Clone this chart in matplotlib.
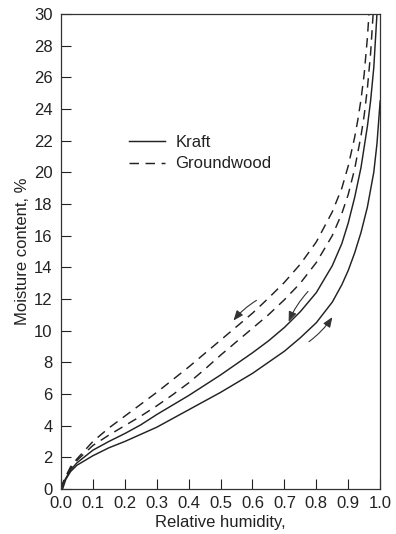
import matplotlib.pyplot as plt

plt.rcParams['font.family'] = ['Liberation Sans', 'DejaVu Sans']

# values (relative humidity, moisture content %)
gw_des_rh = [0, 0.01, 0.03, 0.05, 0.1, 0.15, 0.2, 0.25, 0.3, 0.35, 0.4, 0.45, 0.5, 0.55, 0.6,
             0.65, 0.7, 0.75, 0.8, 0.85, 0.88, 0.9, 0.92, 0.93, 0.94, 0.95, 0.96, 0.965]
gw_des_mc = [0, 0.6, 1.4, 1.9, 3.0, 3.85, 4.6, 5.35, 6.1, 6.9, 7.7, 8.55, 9.4, 10.25, 11.1,
             12.05, 13.05, 14.2, 15.6, 17.5, 19.0, 20.4, 22.2, 23.3, 24.6, 26.2, 28.5, 30]

gw_ads_rh = [0, 0.01, 0.03, 0.05, 0.1, 0.15, 0.2, 0.25, 0.3, 0.35, 0.4, 0.45, 0.5, 0.55, 0.6,
             0.65, 0.7, 0.75, 0.8, 0.85, 0.88, 0.9, 0.92, 0.94, 0.95, 0.96, 0.97, 0.978]
gw_ads_mc = [0, 0.55, 1.3, 1.8, 2.75, 3.4, 4.0, 4.6, 5.25, 5.95, 6.7, 7.55, 8.45, 9.3, 10.15,
             11.0, 11.95, 13.0, 14.3, 16.0, 17.4, 18.6, 20.2, 22.3, 23.6, 25.3, 27.5, 30]

kr_des_rh = [0, 0.01, 0.03, 0.05, 0.1, 0.15, 0.2, 0.25, 0.3, 0.35, 0.4, 0.45, 0.5, 0.55, 0.6,
             0.65, 0.7, 0.75, 0.8, 0.85, 0.88, 0.9, 0.92, 0.94, 0.96, 0.97, 0.98, 0.99]
kr_des_mc = [0, 0.5, 1.2, 1.65, 2.45, 3.0, 3.5, 4.05, 4.7, 5.3, 5.9, 6.55, 7.2, 7.9, 8.6,
             9.35, 10.2, 11.2, 12.4, 14.1, 15.5, 16.8, 18.4, 20.3, 22.9, 24.5, 26.6, 30]

kr_ads_rh = [0.005, 0.015, 0.03, 0.05, 0.1, 0.15, 0.2, 0.25, 0.3, 0.35, 0.4, 0.45, 0.5, 0.55, 0.6,
             0.65, 0.7, 0.75, 0.8, 0.85, 0.88, 0.9, 0.92, 0.94, 0.96, 0.98, 0.99, 1.0]
kr_ads_mc = [0, 0.6, 1.1, 1.5, 2.1, 2.6, 3.0, 3.45, 3.9, 4.45, 5.0, 5.55, 6.1, 6.7, 7.3,
             8.0, 8.7, 9.55, 10.5, 11.8, 12.9, 13.8, 14.9, 16.2, 17.8, 20.0, 21.8, 24.5]

# direction arrows: (start rh, start mc, end rh, end mc)
arrows = [
    (0.62, 12.0, 0.535, 10.5),
    (0.78, 12.6, 0.71, 10.4),
    (0.77, 9.2, 0.855, 11.0),
]

x_ticks = [i / 10 for i in range(11)]
y_ticks = list(range(0, 31, 2))

ink = "#222222"
dash = (0, (6.5, 4.5))

fig = plt.figure(figsize=(3.96, 5.34), dpi=100)
ax = fig.add_axes([0.154, 0.0843, 0.806, 0.8897])

ax.plot(kr_ads_rh, kr_ads_mc, color=ink, lw=1.05, label="Kraft")
ax.plot(kr_des_rh, kr_des_mc, color=ink, lw=1.05)
ax.plot(gw_ads_rh, gw_ads_mc, color=ink, lw=1.05, linestyle=dash, label="Groundwood")
ax.plot(gw_des_rh, gw_des_mc, color=ink, lw=1.05, linestyle=dash)

for x0, y0, x1, y1 in arrows:
    ax.annotate("", xy=(x1, y1), xytext=(x0, y0),
                arrowprops=dict(arrowstyle="-|>,head_length=0.6,head_width=0.24",
                                color="#333333", lw=0.8,
                                connectionstyle="arc3,rad=0.1"))

ax.set_xlim(0, 1.0)
ax.set_ylim(0, 30)
ax.set_xticks(x_ticks)
ax.set_xticklabels([f"{t:.1f}" for t in x_ticks])
ax.set_yticks(y_ticks)
ax.tick_params(direction="in", length=7, width=0.8, colors=ink, labelsize=12)
ax.tick_params(axis="y", pad=6)
ax.tick_params(axis="x", pad=5)
for s in ax.spines.values():
    s.set_color("#333333")
    s.set_linewidth(0.9)

ax.set_xlabel("Relative humidity,", fontsize=12, color=ink, labelpad=3)
ax.set_ylabel("Moisture content, %", fontsize=12, color=ink, labelpad=3)

ax.legend(loc="upper left", bbox_to_anchor=(0.165, 0.777), frameon=False,
          fontsize=12, handlelength=2.2, handletextpad=0.6, labelspacing=0.4,
          labelcolor=ink)

fig.savefig("out.png", dpi=100)
